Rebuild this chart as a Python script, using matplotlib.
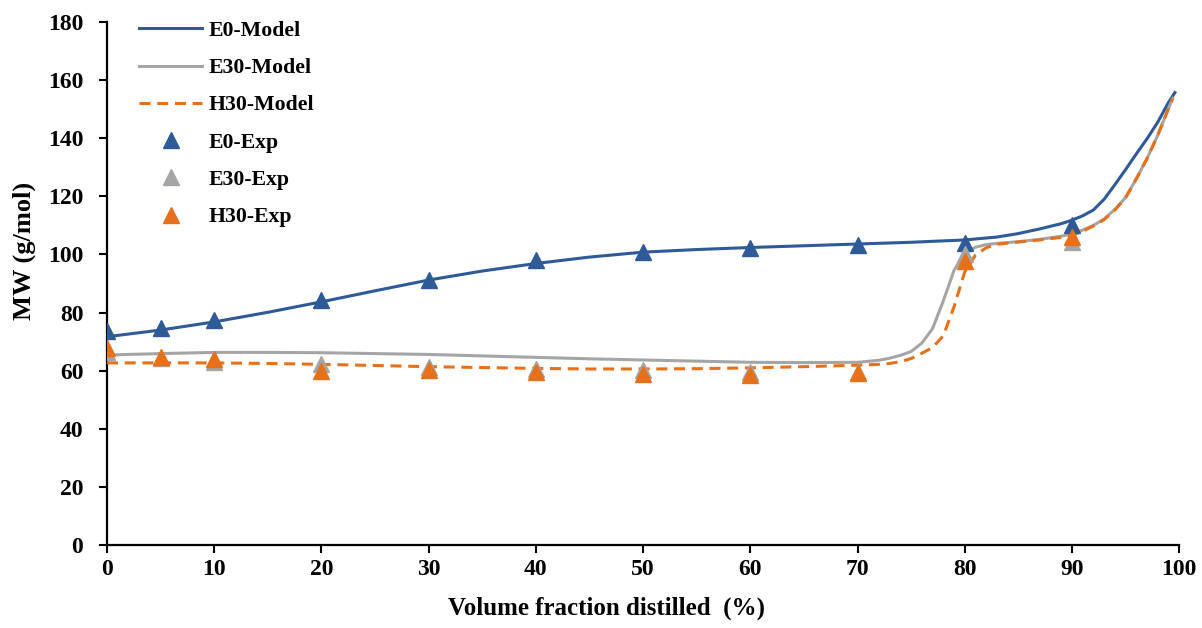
import matplotlib
matplotlib.use("Agg")
import matplotlib.pyplot as plt

# ---- data -----------------------------------------------------------------
# experimental points
exp_x = [0, 5, 10, 20, 30, 40, 50, 60, 70, 80, 90]
e0_exp = [73.5, 74.6, 77.5, 84.5, 91.2, 98.2, 100.8, 102.4, 103.1, 104.0, 110.1]
e30_exp = [66.5, 64.5, 63.1, 62.4, 61.3, 60.7, 60.2, 59.5, 59.5, 100.0, 104.4]
h30_exp = [67.7, 64.6, 64.2, 60.0, 60.2, 59.5, 59.0, 58.7, 59.2, 97.7, 106.0]

# model curves
e0_mod_x = [0, 5, 10, 15, 20, 25, 30, 35, 40, 45, 50, 55, 60, 65, 70, 75,
            80, 83, 85, 87, 89, 90, 91, 92, 93, 94, 95, 96, 97, 98, 99, 99.6]
e0_mod_y = [71.7, 74.0, 76.8, 80.1, 83.7, 87.5, 91.2, 94.3, 96.9, 99.1, 100.8,
            101.7, 102.4, 103.0, 103.6, 104.2, 105.0, 106.0, 107.2, 108.8,
            110.6, 111.8, 113.3, 115.3, 119.0, 124.0, 129.2, 134.6, 139.8,
            145.5, 152.3, 155.7]

e30_mod_x = [0, 5, 10, 15, 20, 25, 30, 35, 40, 45, 50, 55, 60, 65, 70, 72,
             73, 74, 75, 76, 77, 78, 79, 80, 81, 82, 83, 85, 87, 89, 90, 91,
             92, 93, 94, 95, 96, 97, 98, 99, 99.4]
e30_mod_y = [65.4, 65.9, 66.3, 66.3, 66.2, 65.9, 65.6, 65.1, 64.6, 64.1, 63.7,
             63.3, 62.9, 62.8, 62.9, 63.6, 64.3, 65.3, 66.6, 69.5, 74.5, 84.0,
             94.5, 100.5, 102.5, 103.4, 103.8, 104.4, 105.2, 106.3, 107.1,
             108.4, 110.0, 112.2, 115.5, 119.6, 126.0, 133.0, 141.0, 150.2,
             153.7]

h30_mod_x = [0, 5, 10, 15, 20, 25, 30, 35, 40, 45, 50, 55, 60, 65, 70, 72,
             73, 74, 75, 76, 77, 78, 79, 80, 81, 82, 83, 85, 87, 89, 90, 91,
             92, 93, 94, 95, 96, 97, 98, 99, 99.4]
h30_mod_y = [62.7, 62.7, 62.7, 62.5, 62.2, 61.8, 61.4, 61.1, 60.8, 60.6, 60.6,
             60.7, 61.0, 61.4, 61.9, 62.2, 62.5, 63.1, 64.2, 66.0, 68.0, 72.0,
             82.0, 94.0, 99.8, 102.3, 103.5, 104.3, 105.0, 105.9, 106.6, 108.0,
             109.8, 112.0, 115.3, 119.5, 126.0, 133.0, 141.0, 150.2, 153.7]

x_ticks = [0, 10, 20, 30, 40, 50, 60, 70, 80, 90, 100]
y_ticks = [0, 20, 40, 60, 80, 100, 120, 140, 160, 180]

# ---- styling ----------------------------------------------------------------
BLUE = "#2E5A97"
GREY = "#A5A5A5"
ORANGE = "#E6711A"

plt.rcParams["font.family"] = ["Liberation Serif", "DejaVu Serif"]
plt.rcParams["font.weight"] = "bold"

fig = plt.figure(figsize=(12.02, 6.28), dpi=100)
ax = fig.add_axes([0.089, 0.132, 0.892, 0.833])

ax.plot(e0_mod_x, e0_mod_y, color=BLUE, lw=2.2, label="E0-Model", zorder=3)
ax.plot(e30_mod_x, e30_mod_y, color=GREY, lw=2.2, label="E30-Model", zorder=3)
ax.plot(h30_mod_x, h30_mod_y, color=ORANGE, lw=2.2, dashes=(3.6, 2.2),
        label="H30-Model", zorder=4)

ms = 11.5
ax.plot(exp_x, e0_exp, ls="none", marker="^", ms=ms, color=BLUE,
        label="E0-Exp", zorder=5)
ax.plot(exp_x, e30_exp, ls="none", marker="^", ms=ms, color=GREY,
        label="E30-Exp", zorder=5)
ax.plot(exp_x, h30_exp, ls="none", marker="^", ms=ms, color=ORANGE,
        label="H30-Exp", zorder=6)

ax.set_xlim(0, 100)
ax.set_ylim(0, 180)
ax.set_xticks(x_ticks)
ax.set_yticks(y_ticks)
ax.tick_params(direction="out", length=6, width=1.5, labelsize=17)
ax.tick_params(axis="y", pad=11)
ax.tick_params(axis="x", pad=4)
for lab in ax.get_xticklabels() + ax.get_yticklabels():
    lab.set_fontweight("bold")

for side in ("top", "right"):
    ax.spines[side].set_visible(False)
for side in ("left", "bottom"):
    ax.spines[side].set_linewidth(1.6)

ax.set_xlabel("Volume fraction distilled  (%)", fontsize=18, fontweight="bold")
ax.set_ylabel("MW (g/mol)", fontsize=19, fontweight="bold")
ax.xaxis.set_label_coords(0.466, -0.098)
ax.yaxis.set_label_coords(-0.077, 0.562)
ax.yaxis.label.set_verticalalignment("center")

leg = ax.legend(loc="upper left", bbox_to_anchor=(0.012, 1.04), frameon=False,
                fontsize=15.7, handlelength=2.85, handletextpad=0.3,
                labelspacing=0.78, numpoints=1)
for t in leg.get_texts():
    t.set_fontweight("bold")

fig.savefig("out.png", dpi=100)
